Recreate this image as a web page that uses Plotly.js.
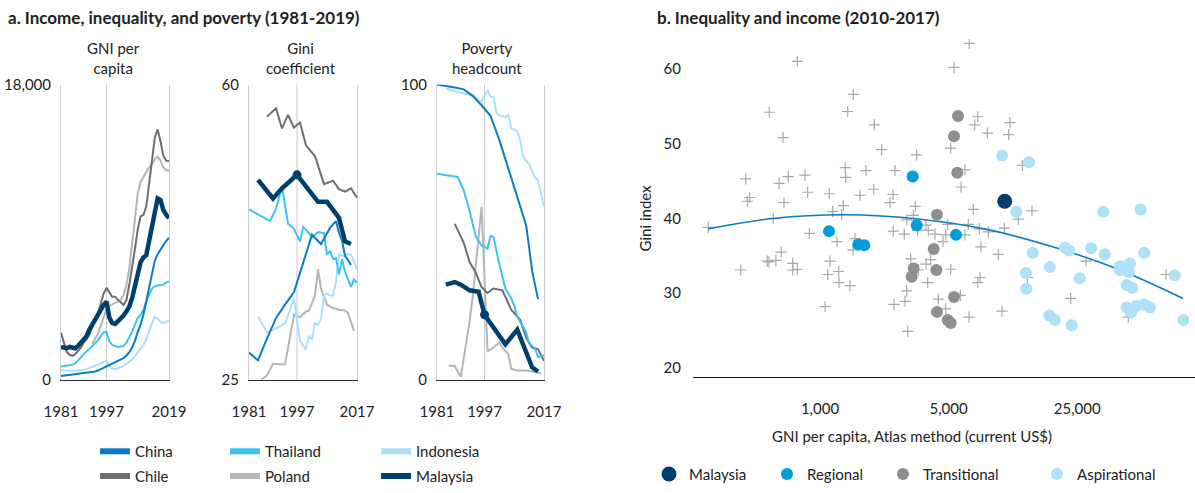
<!DOCTYPE html>
<html><head><meta charset="utf-8">
<script src="https://cdn.plot.ly/plotly-3.0.1.min.js"></script>
<style>
html,body{margin:0;padding:0;background:#fff;overflow:hidden}
#chart{position:absolute;left:0;top:0;width:1195px;height:493px}
</style>
</head><body>
<div id="chart"></div>
<script>
// ---------- Panel a: GNI per capita (US$), 1981-2019 ----------
const gniYears = [1981,1982,1983,1984,1985,1986,1987,1988,1989,1990,1991,1992,1993,1994,1995,1996,1997,1998,1999,2000,2001,2002,2003,2004,2005,2006,2007,2008,2009,2010,2011,2012,2013,2014,2015,2016,2017,2018,2019];
const gniChina     = [220,240,260,300,340,360,380,400,420,420,440,460,500,560,640,760,840,920,980,1040,1120,1200,1320,1480,1660,1960,2360,2920,3360,3960,4760,5560,6460,7260,7660,7960,8200,8460,8660];
const gniThailand  = [800,820,840,860,920,1000,1160,1360,1560,1720,1920,2060,2200,2400,2660,2900,2920,2360,2120,2040,2000,2020,2060,2260,2560,2920,3360,3760,3960,4260,4760,5160,5560,5700,5760,5760,5800,5920,6000];
const gniIndonesia = [580,560,540,540,540,560,560,580,600,640,720,800,860,920,1000,1100,1160,860,680,640,680,760,840,960,1080,1240,1440,1660,1880,2120,2460,2960,3460,3800,3720,3520,3460,3520,3600];
const gniChile     = [2860,2200,1700,1520,1460,1560,1760,1960,2260,2460,2760,3260,3660,4060,4660,5260,5600,5360,5060,5060,4860,4720,4560,4860,5760,6760,7960,9160,9960,10060,10560,11960,13560,14760,15260,14560,13660,13360,13320];
const gniMalaysia  = [2000,1960,1920,2000,1960,1920,2060,2260,2460,2660,3060,3360,3660,4000,4260,4560,4760,3800,3460,3400,3560,3720,3920,4160,4460,4960,5660,6460,7160,7460,7600,8460,9360,10360,11060,10960,10360,10060,9860];
const gniPolandYears = [1992,1993,1994,1995,1996,1997,1998,1999,2000,2001,2002,2003,2004,2005,2006,2007,2008,2009,2010,2011,2012,2013,2014,2015,2016,2017,2018,2019];
const gniPoland      = [2200,2500,2800,3300,3800,4300,4500,4600,4660,4760,4860,5160,5760,6760,8160,9760,11360,12060,12360,12660,12960,13160,13460,13620,13360,12960,12760,12760];

// ---------- Panel a: Gini coefficient ----------
const giniChinaYears = [1981,1984,1987,1990,1993,1996,1999,2002,2005,2008,2010,2011,2012,2013,2014,2015];
const giniChina      = [28.2,27.3,29.9,32.3,33.9,35.4,38.8,42.2,41.1,43.0,43.8,42.4,41.5,39.7,39.2,38.6];
const giniThailandYears = [1981,1988,1990,1992,1994,1996,1998,1999,2000,2002,2004,2006,2007,2008,2009,2010,2011,2012,2013,2014,2015,2016,2017];
const giniThailand      = [45.2,43.8,45.3,47.9,43.5,42.9,41.4,43.1,42.8,41.9,42.5,42.4,39.8,40.3,39.3,39.4,37.5,39.3,37.8,37.0,36.0,36.9,36.5];
const giniIndonesiaYears = [1984,1987,1990,1993,1996,1998,2000,2001,2002,2003,2004,2005,2006,2007,2008,2009,2010,2011,2012,2013,2014,2015,2016,2017];
const giniIndonesia      = [32.5,30.6,31.1,31.7,34.6,29.6,28.6,30.2,29.8,31.7,31.5,32.2,35.0,35.2,35.0,35.0,36.6,39.9,39.7,39.7,39.9,39.8,39.0,38.1];
const giniChileYears = [1987,1990,1992,1994,1996,1998,2000,2003,2006,2009,2011,2013,2015,2017];
const giniChile      = [56.2,57.2,54.8,56.4,54.9,55.5,52.8,51.5,48.2,48.6,47.6,47.3,47.7,46.6];
const giniPolandYears = [1985,1987,1989,1993,1996,1998,2000,2001,2003,2004,2005,2007,2009,2011,2013,2014,2016];
const giniPoland      = [25.0,25.5,26.9,26.8,32.7,32.4,33.1,33.2,35.0,38.1,35.8,33.9,33.5,33.3,33.2,32.9,30.8];
const giniMalaysiaYears = [1984,1989,1992,1997,2004,2007,2011,2013,2015];
const giniMalaysia      = [48.7,46.5,47.7,49.3,46.1,46.1,44.2,41.4,41.1];

// ---------- Panel a: Poverty headcount (%) ----------
const povChinaYears = [1981,1984,1987,1990,1993,1996,1999,2002,2005,2008,2010,2011,2012,2013,2015];
const povChina      = [100,99.6,99.0,98.4,96.2,93.0,89.4,81.2,71.8,62.2,55.7,52.3,44.8,36.9,27.3];
const povThailandYears = [1981,1988,1990,1992,1994,1996,1998,1999,2000,2002,2004,2006,2007,2008,2009,2010,2011,2012,2013,2014,2015,2016,2017];
const povThailand      = [69.8,68.7,64.2,57.0,48.7,45.5,44.4,48.7,48.4,39.0,30.9,27.6,25.0,21.5,19.5,18.0,16.0,12.2,11.5,10.6,7.6,8.1,8.1];
const povIndonesiaYears = [1984,1987,1990,1993,1996,1998,1999,2000,2001,2002,2003,2004,2005,2006,2007,2008,2009,2010,2011,2012,2013,2014,2015,2016,2017];
const povIndonesia      = [98.7,97.8,97.0,96.4,94.2,98.1,95.9,95.7,90.5,89.5,89.2,89.0,89.8,85.1,84.8,84.2,81.0,75.5,74.2,73.0,70.5,68.5,67.6,63.5,58.7];
const povChileYears = [1987,1990,1992,1994,1996,1998,2000,2003,2006,2009,2011,2013,2015,2017];
const povChile      = [52.8,46.4,39.8,36.4,31.4,29.4,30.9,30.3,23.7,20.3,14.2,10.9,10.3,6.4];
const povPolandYears = [1985,1987,1989,1992,1993,1996,1998,2000,2002,2003,2005,2006,2008,2011,2016];
const povPoland      = [4.8,4.6,1.0,20.0,28.0,58.7,9.6,10.9,12.6,10.9,8.7,3.7,3.1,3.1,2.2];
const povMalaysiaYears = [1984,1987,1989,1992,1995,1997,2004,2008,2013,2014,2015];
const povMalaysia      = [32.2,33.1,32.2,30.3,29.8,22.0,12.0,17.0,4.2,3.3,2.8];

// ---------- Panel b: Inequality and income (2010-2017) ----------
const otherGNI  = [753,1517,530,1415,630,1372,395,672,599,829,1379,415,403,637,857,1123,1650,1339,1172,1312,557,247,875,1237,1549,1512,616,517,528,576,371,711,711,753,1133,1101,1264,1269,1455,1065,
  6477,5349,7194,6932,10780,8116,10600,1973,5131,2164,3354,12580,1778,2556,6138,5838,1958,2493,2401,3296,6811,3214,2959,11960,3767,3396,3879,4943,6397,7341,8216,10040,2502,2872,4217,4822,6138,4661,7499,9311,3111,3997,3767,5131,3421,3849,7405,7194,2959,2897,2525,4395,5787,4822,6453,9752,2996,
  14190,27910,13390,23040,75930,47370];
const otherGini = [61.0,56.6,54.2,54.3,50.8,46.8,45.3,45.6,44.7,45.8,45.5,42.8,42.3,42.1,43.5,43.3,43.1,41.7,40.9,40.5,40.0,38.8,38.0,36.9,37.3,35.8,35.5,34.3,34.2,34.4,33.1,34.0,33.1,33.2,34.3,32.5,32.9,31.4,31.0,28.2,
  63.4,60.2,53.6,52.5,52.8,51.4,51.2,52.5,49.4,49.2,48.5,47.1,46.4,46.4,46.5,44.2,43.9,43.2,42.1,41.6,41.2,40.4,39.8,39.9,39.1,38.4,38.4,39.2,39.2,38.6,38.2,38.7,38.3,37.9,37.9,37.8,37.8,36.9,36.2,35.2,34.6,34.5,33.9,33.2,33.1,31.4,32.1,31.4,30.3,28.9,28.5,29.2,29.7,27.9,26.8,27.6,24.9,
  41.0,34.3,32.1,29.3,32.5,26.8];
const transGNI  = [5623,5349,5574,4324,4150,3230,3150,4287,5349,4324,4943,5131];
const transGini = [53.7,51.0,46.1,40.5,35.9,33.3,32.2,33.1,29.5,27.5,26.4,26.0];
const regGNI  = [1119,1615,1741,3190,3354,5484];
const regGini = [38.3,36.5,36.4,45.6,39.1,37.8];
const aspGNI  = [9752,13670,11660,34650,55330,14320,21450,22640,29710,35260,57880,13170,17720,25780,42700,48390,42700,47610,84690,13220,46430,49820,46430,49000,52180,57880,62150,17630,18930,23330,94300];
const aspGini = [48.4,47.5,40.9,40.9,41.2,35.4,36.1,35.7,36.0,35.2,35.4,32.7,33.5,32.0,33.6,34.0,33.1,32.8,32.4,30.6,31.1,30.7,28.1,27.4,28.3,28.5,28.1,27.0,26.4,25.7,26.4];
const mysGNI  = [10090];
const mysGini = [42.3];
const fitGNI  = [247,555,1367,3496,8190,20200,42700,93900];
const fitGini = [38.6,40.0,40.5,39.9,38.5,35.9,33.1,29.3];

// ---------- styling ----------
const FONT = "Lato, 'Open Sans', sans-serif";
const TXT = '#222';
const W = 1195, H = 493;
const px = v => v / W, py = v => 1 - v / H;
const col = {China:'#0b7cc3', Thailand:'#40c2f1', Indonesia:'#ace0f8', Chile:'#6d6e71', Poland:'#b3b5b7', Malaysia:'#003e6e'};
const lw  = {China:2, Thailand:2, Indonesia:2, Chile:2, Poland:2, Malaysia:4.5};

const series = {
  Poland:    {gni:[gniPolandYears,gniPoland], gini:[giniPolandYears,giniPoland], pov:[povPolandYears,povPoland]},
  Indonesia: {gni:[gniYears,gniIndonesia], gini:[giniIndonesiaYears,giniIndonesia], pov:[povIndonesiaYears,povIndonesia]},
  Chile:     {gni:[gniYears,gniChile], gini:[giniChileYears,giniChile], pov:[povChileYears,povChile]},
  Thailand:  {gni:[gniYears,gniThailand], gini:[giniThailandYears,giniThailand], pov:[povThailandYears,povThailand]},
  China:     {gni:[gniYears,gniChina], gini:[giniChinaYears,giniChina], pov:[povChinaYears,povChina]},
  Malaysia:  {gni:[gniYears,gniMalaysia], gini:[giniMalaysiaYears,giniMalaysia], pov:[povMalaysiaYears,povMalaysia]}
};

const traces = [];
for (const [name, s] of Object.entries(series)) {
  [['gni','x','y'],['gini','x2','y2'],['pov','x3','y3']].forEach(([k,xa,ya]) => {
    traces.push({x:s[k][0], y:s[k][1], xaxis:xa, yaxis:ya, type:'scatter', mode:'lines',
      line:{color:col[name], width:lw[name]}, showlegend:false, hoverinfo:'skip', name:name});
  });
}
// Malaysia 1997 knot in the Gini and poverty panels (taken from the series arrays)
[['gini','x2','y2'],['pov','x3','y3']].forEach(([k,xa,ya]) => {
  const [xs, ys] = series.Malaysia[k];
  const i = xs.indexOf(1997);
  traces.push({x:[xs[i]], y:[ys[i]], xaxis:xa, yaxis:ya, type:'scatter', mode:'markers',
    marker:{color:col.Malaysia, size:9}, showlegend:false, hoverinfo:'skip'});
});

const leftLegendOrder = ['China','Thailand','Indonesia','Chile','Poland','Malaysia'];
const leftLegendPos = [[95,459],[225,459],[376,459],[95,484],[225,484],[376,484]];
const legends = {};
leftLegendOrder.forEach((name,i) => {
  const key = i === 0 ? 'legend' : 'legend' + (i+1);
  traces.push({x:[null], y:[null], xaxis:'x', yaxis:'y', type:'scatter', mode:'lines', name:name,
    line:{color:col[name], width:6}, showlegend:true, legend:key});
  legends[key] = {x:px(leftLegendPos[i][0]), y:py(leftLegendPos[i][1]), xanchor:'left', yanchor:'middle'};
});

traces.push({x:otherGNI, y:otherGini, xaxis:'x4', yaxis:'y4', type:'scatter', mode:'markers', showlegend:false,
  marker:{symbol:'cross-thin', size:8, color:'#a9a9a9', line:{color:'#a9a9a9', width:1.2}}, hoverinfo:'skip'});
traces.push({x:fitGNI, y:fitGini, xaxis:'x4', yaxis:'y4', type:'scatter', mode:'lines', showlegend:false,
  line:{color:'#0b7cc3', width:1.6, shape:'spline'}, hoverinfo:'skip'});
const scatterGroups = [
  ['Transitional', transGNI, transGini, '#8e8f92', 12],
  ['Aspirational', aspGNI, aspGini, '#aee0f8', 12],
  ['Regional', regGNI, regGini, '#009ddb', 12],
  ['Malaysia', mysGNI, mysGini, '#003e6e', 15]
];
const rightLegendPos = {Malaysia:[649,482], Regional:[767,482], Transitional:[883,482], Aspirational:[1037,482]};
let li = 7;
['Malaysia','Regional','Transitional','Aspirational'].forEach(n => { rightLegendPos[n].push('legend' + (li++)); });
scatterGroups.forEach(([name, xs, ys, c, sz]) => {
  const key = rightLegendPos[name][2];
  traces.push({x:xs, y:ys, xaxis:'x4', yaxis:'y4', type:'scatter', mode:'markers', name:name,
    marker:{color:c, size:sz}, showlegend:true, legend:key, hoverinfo:'skip'});
  legends[key] = {x:px(rightLegendPos[name][0]), y:py(rightLegendPos[name][1]), xanchor:'left', yanchor:'middle'};
});
for (const k in legends) {
  Object.assign(legends[k], {orientation:'h', bgcolor:'rgba(0,0,0,0)', borderwidth:0,
    font:{family:FONT, size:15, color:TXT}, itemclick:false, itemdoubleclick:false});
}

const tickFont = {family:FONT, size:15, color:TXT};
const leftX = (dom, r, tv) => ({domain:dom, range:r, tickvals:tv, showgrid:false, zeroline:false,
  showline:true, linecolor:'#333', linewidth:1, ticks:'outside', ticklen:18, tickcolor:'rgba(0,0,0,0)',
  tickfont:tickFont, fixedrange:true});
const leftY = (r, tv) => ({domain:[py(386), py(86)], range:r, tickvals:tv, tickformat:',d', showgrid:false, zeroline:false,
  showline:true, mirror:true, linecolor:'#cfcfcf', linewidth:1, ticks:'outside', ticklen:6, tickcolor:'rgba(0,0,0,0)',
  tickfont:tickFont, fixedrange:true});

const layout = Object.assign({
  width:W, height:H, margin:{l:0,r:0,t:0,b:0}, paper_bgcolor:'#fff', plot_bgcolor:'#fff',
  font:{family:FONT, color:TXT},
  xaxis:  Object.assign(leftX([px(61),px(169)], [1981,2019], [1981,1997,2019]), {anchor:'y'}),
  yaxis:  Object.assign(leftY([0,18000], [0,18000]), {anchor:'x'}),
  xaxis2: Object.assign(leftX([px(249),px(357)], [1981,2017], [1981,1997,2017]), {anchor:'y2'}),
  yaxis2: Object.assign(leftY([25,60], [25,60]), {anchor:'x2'}),
  xaxis3: Object.assign(leftX([px(437),px(544)], [1981,2017], [1981,1997,2017]), {anchor:'y3'}),
  yaxis3: Object.assign(leftY([0,100], [0,100]), {anchor:'x3'}),
  xaxis4: {anchor:'y4', type:'log', domain:[px(693),1], range:[2.3098,5.038], tickvals:[1000,5000,25000], tickformat:',d',
    showgrid:false, zeroline:false, showline:true, linecolor:'#111', linewidth:1.5,
    ticks:'outside', ticklen:18, tickcolor:'rgba(0,0,0,0)', tickfont:tickFont, fixedrange:true},
  yaxis4: {anchor:'x4', domain:[py(383), py(40)], range:[18.82,63.95], tickvals:[20,30,40,50,60],
    showgrid:false, zeroline:false, showline:false, ticks:'outside', ticklen:8, tickcolor:'rgba(0,0,0,0)',
    tickfont:tickFont, fixedrange:true},
  showlegend:true,
  shapes: [['x','y'],['x2','y2'],['x3','y3']].map(([xa,ya]) => ({type:'line', layer:'below', xref:xa, yref:ya+' domain',
    x0:1997, x1:1997, y0:0, y1:1, line:{color:'#c8c8c8', width:1}})),
  annotations: [
    {text:'<b>a. Income, inequality, and poverty (1981-2019)</b>', x:px(6), y:py(18), xanchor:'left', yanchor:'middle', font:{size:17}},
    {text:'<b>b. Inequality and income (2010-2017)</b>', x:px(655), y:py(18), xanchor:'left', yanchor:'middle', font:{size:17}},
    {text:'GNI per<br>capita', x:px(113), y:py(59), xanchor:'center', yanchor:'middle', font:{size:15}},
    {text:'Gini<br>coefficient', x:px(301), y:py(59), xanchor:'center', yanchor:'middle', font:{size:15}},
    {text:'Poverty<br>headcount', x:px(487), y:py(59), xanchor:'center', yanchor:'middle', font:{size:15}},
    {text:'Gini index', x:px(645), y:py(222), xanchor:'center', yanchor:'middle', textangle:-90, font:{size:15}},
    {text:'GNI per capita, Atlas method (current US$)', x:px(912), y:py(443), xanchor:'center', yanchor:'middle', font:{size:15}}
  ].map(a => Object.assign({xref:'paper', yref:'paper', showarrow:false}, a, {font:Object.assign({family:FONT, color:TXT}, a.font)}))
}, legends);

Plotly.newPlot('chart', traces, layout, {staticPlot:true, displayModeBar:false});
</script>
</body></html>
